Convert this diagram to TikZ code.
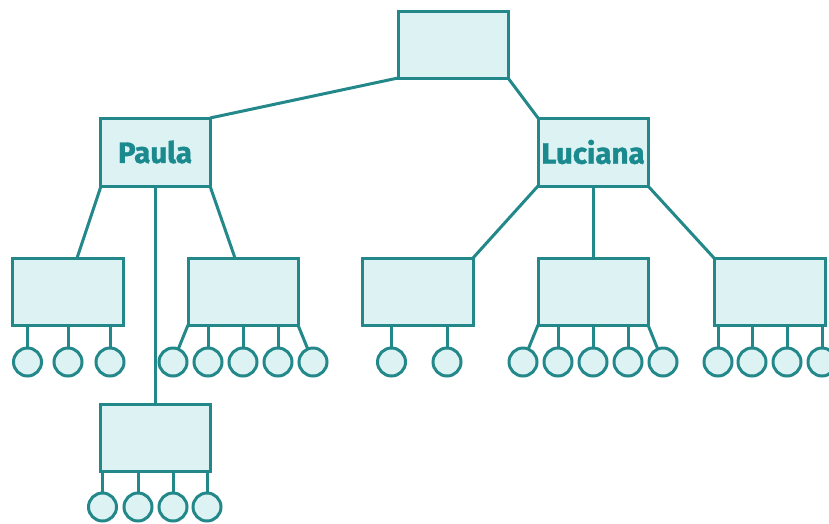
\documentclass[tikz,border=0pt]{standalone}
\usepackage{fontspec}
\newfontfamily\lblfont{Fira Sans}[BoldFeatures={FakeBold=1.2}]
\definecolor{teal1}{HTML}{23888A}
\definecolor{tealfill}{HTML}{DDF2F3}
\definecolor{tealtext}{HTML}{1B8A8E}
\begin{document}
\begin{tikzpicture}[x=1pt,y=-1pt,
  box/.style={draw=teal1,fill=tealfill,line width=3pt,minimum width=110pt,minimum height=67pt,inner sep=0pt,outer sep=0pt},
  leaf/.style={draw=teal1,fill=tealfill,line width=3pt,circle,minimum size=28pt,inner sep=0pt,outer sep=0pt},
  link/.style={draw=teal1,line width=3pt},
  lbl/.style={font=\lblfont\bfseries\fontsize{29.5}{29.5}\selectfont,text=tealtext}]
\useasboundingbox (0,0) rectangle (829,523);

% boxes
\node[box] (top) at (453,44.5) {};
\node[box,minimum height=68pt] (paula) at (155,152) {};
\node[box,minimum height=68pt] (luciana) at (593,152) {};
\node[lbl] at (paula) {Paula};
\node[lbl] at (luciana) {Luciana};
\node[box,minimum width=111pt] (b1) at (67.5,291.5) {};
\node[box] (b2) at (243,291.5) {};
\node[box,minimum width=111pt] (b3) at (417.5,291.5) {};
\node[box] (b4) at (593,291.5) {};
\node[box,minimum width=111pt] (b5) at (769.5,291.5) {};
\node[box] (b6) at (155,437.5) {};

% upper links
\draw[link] (top.south west) -- (paula.north east);
\draw[link] (top.south east) -- (luciana.north west);
\draw[link] ([xshift=1pt]paula.south west) -- ([xshift=9.5pt]b1.north);
\draw[link] (paula.south) -- (b6.north);
\draw[link] (paula.south east) -- ([xshift=-8pt]b2.north);
\draw[link] (luciana.south west) -- (b3.north east);
\draw[link] (luciana.south) -- (b4.north);
\draw[link] (luciana.south east) -- (b5.north west);

% leaves of b1
\foreach \i/\x in {1/27.5,2/68,3/110}{
  \node[leaf] (c1\i) at (\x,362) {};
  \draw[link] (c1\i.north) -- (c1\i.north |- b1.south);
}
% leaves of b2
\foreach \i/\x in {1/173,2/208,3/243,4/278,5/313}
  \node[leaf] (c2\i) at (\x,362) {};
\draw[link] (b2.south west) -- (c21);
\foreach \i in {2,3,4}
  \draw[link] (c2\i.north) -- (c2\i.north |- b2.south);
\draw[link] (b2.south east) -- (c25);
% leaves of b3
\foreach \i/\x in {1/391.5,2/447}{
  \node[leaf] (c3\i) at (\x,362) {};
  \draw[link] (c3\i.north) -- (c3\i.north |- b3.south);
}
% leaves of b4
\foreach \i/\x in {1/523,2/558,3/593,4/628,5/663}
  \node[leaf] (c4\i) at (\x,362) {};
\draw[link] (b4.south west) -- (c41);
\foreach \i in {2,3,4}
  \draw[link] (c4\i.north) -- (c4\i.north |- b4.south);
\draw[link] (b4.south east) -- (c45);
% leaves of b5
\foreach \i/\x in {1/718,2/752,3/787,4/822}{
  \node[leaf] (c5\i) at (\x,362) {};
  \draw[link] (c5\i.north) -- (c5\i.north |- b5.south);
}
% leaves of b6
\foreach \i/\x in {1/102.5,2/138,3/173,4/207}{
  \node[leaf] (c6\i) at (\x,507) {};
  \draw[link] (c6\i.north) -- (c6\i.north |- b6.south);
}
\end{tikzpicture}
\end{document}
